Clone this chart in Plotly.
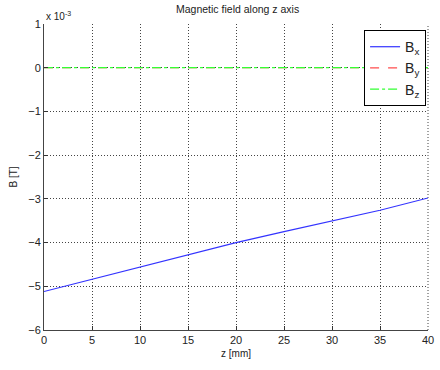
import plotly.graph_objects as go

z = [0, 5, 10, 15, 20, 25, 30, 35, 40]
Bx = [-5.12, -4.84, -4.56, -4.28, -4.0, -3.75, -3.5, -3.26, -2.98]  # x 1e-3 T
By = [0] * len(z)
Bz = [0] * len(z)
xticks = [0, 5, 10, 15, 20, 25, 30, 35, 40]
yticks = [1, 0, -1, -2, -3, -4, -5, -6]

font = dict(family="Liberation Sans, Arial, sans-serif", size=11, color="#222")

fig = go.Figure()
fig.add_trace(go.Scatter(x=z, y=Bx, mode="lines", name="B<sub>x</sub>",
                         line=dict(color="#3333ff", width=1.2)))
fig.add_trace(go.Scatter(x=z, y=By, mode="lines", name="B<sub>y</sub>",
                         line=dict(color="#ff4d4d", width=1.2, dash="dash")))
fig.add_trace(go.Scatter(x=z, y=Bz, mode="lines", name="B<sub>z</sub>",
                         line=dict(color="#33ff33", width=1.2, dash="dashdot")))

fig.update_layout(
    width=440, height=370,
    margin=dict(l=44, r=6, t=24, b=40),
    paper_bgcolor="white", plot_bgcolor="white",
    font=font,
    title=dict(text="Magnetic field along z axis", x=0.54, xanchor="center",
               y=0.985, yanchor="top", font=dict(size=10.5)),
    showlegend=True,
    legend=dict(x=0.995, xanchor="right", y=0.98, yanchor="top",
                bgcolor="white", bordercolor="black", borderwidth=1,
                font=dict(size=14), tracegroupgap=0, itemwidth=30),
)
fig.update_xaxes(range=[0, 40], tickvals=xticks, ticks="inside", ticklen=4,
                 tickcolor="#333", showline=True, linecolor="#444", linewidth=1,
                 showgrid=True, gridcolor="#444", griddash="1px,2px", gridwidth=1,
                 zeroline=False, mirror=False, ticklabeloverflow="allow",
                 title=dict(text="z [mm]", standoff=4, font=dict(size=10)))
fig.update_yaxes(range=[-6, 1], tickvals=yticks, ticks="inside", ticklen=4,
                 tickcolor="#333", showline=True, linecolor="#444", linewidth=1,
                 showgrid=True, gridcolor="#444", griddash="1px,2px", gridwidth=1,
                 zeroline=False, ticklabeloverflow="allow",
                 title=dict(text="B [T]", standoff=8, font=dict(size=10)))
fig.add_shape(type="line", xref="paper", yref="paper", x0=1, x1=1, y0=0, y1=1,
              line=dict(color="#444", width=1, dash="1px,2px"), layer="below")
fig.add_annotation(text="x 10<sup>-3</sup>", xref="paper", yref="paper",
                   x=0, y=1.0, xanchor="left", yanchor="bottom", showarrow=False,
                   font=dict(size=10))

fig.write_html("out.html")
